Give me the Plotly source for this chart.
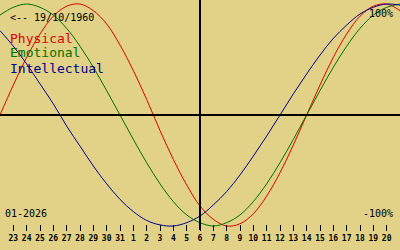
import plotly.graph_objects as go

# day offsets relative to today (06-01-2026), -15 .. +15
offsets = list(range(-15, 16))

physical = [0.00, 0.27, 0.52, 0.73, 0.89, 0.98, 1.00, 0.94, 0.82, 0.63, 0.40, 0.14,
            -0.14, -0.40, -0.63, -0.82, -0.94, -1.00, -0.98, -0.89, -0.73, -0.52, -0.27,
            0.00, 0.27, 0.52, 0.73, 0.89, 0.98, 1.00, 0.94]
emotional = [0.90, 0.97, 1.00, 0.97, 0.90, 0.78, 0.62, 0.43, 0.22, 0.00, -0.22, -0.43,
             -0.62, -0.78, -0.90, -0.97, -1.00, -0.97, -0.90, -0.78, -0.62, -0.43, -0.22,
             0.00, 0.22, 0.43, 0.62, 0.78, 0.90, 0.97, 1.00]
intellectual = [0.76, 0.62, 0.46, 0.28, 0.10, -0.10, -0.28, -0.46, -0.62, -0.76, -0.87, -0.95,
                -0.99, -1.00, -0.97, -0.91, -0.81, -0.69, -0.54, -0.37, -0.19, 0.00, 0.19,
                0.37, 0.54, 0.69, 0.81, 0.91, 0.97, 1.00, 0.99]

tick_offsets = list(range(-14, 15))
tick_labels = ["23", "24", "25", "26", "27", "28", "29", "30", "31", "1", "2", "3", "4", "5",
               "6", "7", "8", "9", "10", "11", "12", "13", "14", "15", "16", "17", "18", "19", "20"]

series = [("Physical", physical, "#E00000"),
          ("Emotional", emotional, "#007000"),
          ("Intellectual", intellectual, "#000090")]

BG = "#E1D287"
MONO = "DejaVu Sans Mono"

fig = go.Figure()
for name, vals, col in series:
    fig.add_trace(go.Scatter(x=offsets, y=vals, mode="lines", name=name,
                             line=dict(color=col, width=1, shape="spline"),
                             hoverinfo="skip", showlegend=False))

# reference lines
fig.add_shape(type="line", xref="x", yref="y", x0=-15, x1=15, y0=0, y1=0,
              line=dict(color="black", width=2))
fig.add_shape(type="line", xref="x", yref="paper", x0=0, x1=0, y0=0.08, y1=1,
              line=dict(color="black", width=2))

def txt(x, y, s, color, size, xanchor="left"):
    fig.add_annotation(x=x, y=y, xref="paper", yref="paper", text=s, showarrow=False,
                       xanchor=xanchor, yanchor="middle",
                       font=dict(family=MONO, size=size, color=color))

txt(8 / 400, 1 - 17 / 250, "&lt;-- 19/10/1960", "black", 10)
txt(8 / 400, 1 - 38 / 250, "Physical", series[0][2], 13)
txt(8 / 400, 1 - 53 / 250, "Emotional", series[1][2], 13)
txt(8 / 400, 1 - 68 / 250, "Intellectual", series[2][2], 13)
txt(395 / 400, 1 - 13 / 250, "100%", "black", 10, "right")
txt(395 / 400, 1 - 213 / 250, "-100%", "black", 10, "right")
txt(3 / 400, 1 - 213 / 250, "01-2026", "black", 10)

fig.update_layout(
    width=400, height=250,
    margin=dict(l=0, r=0, t=0, b=0),
    paper_bgcolor=BG, plot_bgcolor=BG,
    xaxis=dict(range=[-15, 15], showgrid=False, zeroline=False, showline=False,
               tickvals=tick_offsets, ticktext=tick_labels,
               ticks="outside", ticklen=6, tickwidth=1, tickcolor="black",
               anchor="free", position=(250 - 224) / 250,
               tickfont=dict(family=MONO, size=8, color="black", weight="bold"),
               fixedrange=True),
    yaxis=dict(range=[-(250 - 115) / 111, 115 / 111], showgrid=False, zeroline=False,
               showticklabels=False, showline=False, fixedrange=True),
    showlegend=False,
)

fig.write_html("out.html")
